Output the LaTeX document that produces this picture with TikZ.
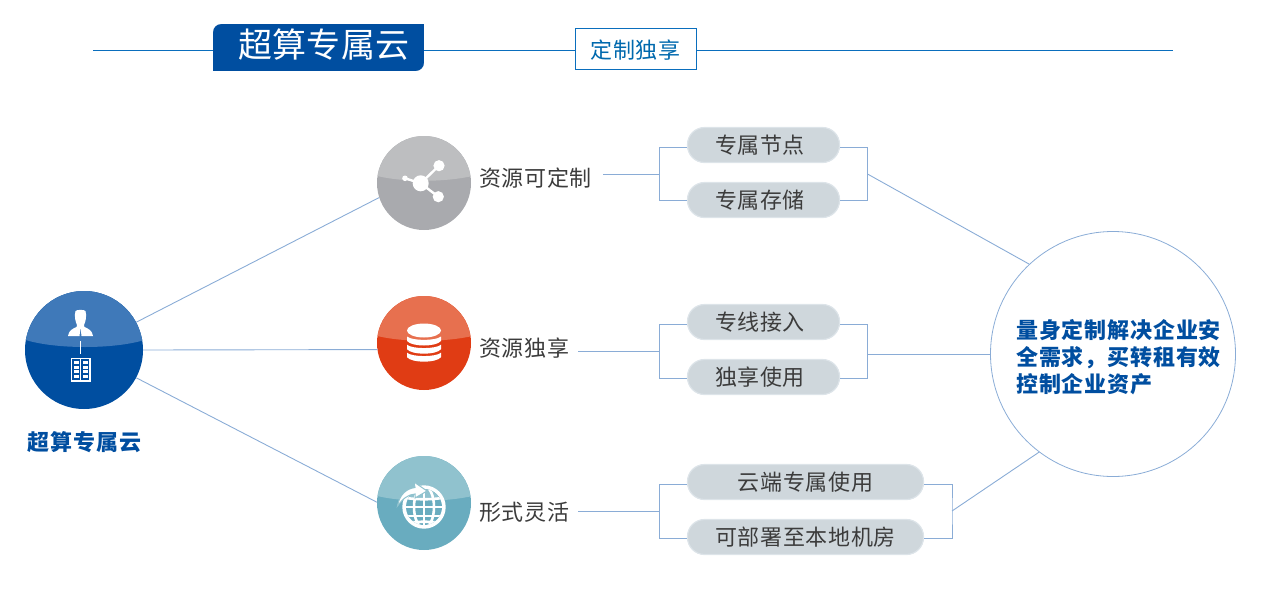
\documentclass[tikz,border=0pt]{standalone}
\usepackage{fontspec}
\setmainfont{Noto Sans CJK SC}[LetterSpace=3]
\newfontfamily\titlefont{Noto Sans CJK SC}[LetterSpace=1]
\newfontfamily\boldspaced{Noto Sans CJK SC}[LetterSpace=3.8]
\usetikzlibrary{calc}
\definecolor{hubdark}{HTML}{004EA0}
\definecolor{hublight}{HTML}{3F79B9}
\definecolor{graydark}{HTML}{A9AAAE}
\definecolor{graylight}{HTML}{BDBEC0}
\definecolor{reddark}{HTML}{E03C14}
\definecolor{redlight}{HTML}{E7704F}
\definecolor{tealdark}{HTML}{69ACBF}
\definecolor{teallight}{HTML}{90C2CE}
\definecolor{txt}{HTML}{3C3C3C}
\definecolor{wire}{HTML}{8AACD6}
\definecolor{headline}{HTML}{0A6EBD}
\definecolor{pillfill}{HTML}{CFD7DC}
\definecolor{pillline}{HTML}{DDE4E9}
\tikzset{
  x=1pt,y=-1pt,
  wireline/.style={draw=wire,line width=0.9pt},
  pill/.style={draw=pillline,line width=1.2pt,fill=pillfill,rounded corners=17pt,minimum height=35pt,inner sep=0pt,text=txt,font=\fontsize{22}{24}\selectfont},
  pillshort/.style={pill,minimum width=152pt},
  pilllong/.style={pill,minimum width=236pt},
  res/.style={circle,inner sep=0pt,minimum size=94pt},
  hubc/.style={circle,inner sep=0pt,minimum size=118pt},
  reslabel/.style={anchor=west,inner sep=0pt,text=txt,font=\fontsize{22}{24}\selectfont},
  boldblue/.style={text=hubdark,font=\boldspaced\fontsize{22}{27}\bfseries\selectfont},
}
\begin{document}
\begin{tikzpicture}
\useasboundingbox (0,0) rectangle (1267,600);
% header
\coordinate (hl) at (93,50.5);
\coordinate (hr) at (1173,50.5);
\draw[headline,line width=0.9pt] (hl) -- (hr);
\node[fill=hubdark,minimum width=211pt,minimum height=47pt,inner sep=0pt,anchor=north west,
  sharp corners] (band) at (213,24) {};
\fill[white] (213,24) -- (221,24) arc[start angle=90,end angle=180,radius=8pt] -- cycle;
\fill[white] (424,71) -- (416,71) arc[start angle=-90,end angle=0,radius=8pt] -- cycle;
\node[text=white,inner sep=0pt,font=\titlefont\fontsize{34}{36}\selectfont] (title) at (324,45) {超算专属云};
\node[draw=headline,fill=white,line width=0.9pt,minimum width=121pt,minimum height=41pt,inner sep=0pt,text=hubdark!85!cyan,text depth=0pt,font=\fontsize{22}{24}\selectfont] (sub) at (635.5,49) {定制独享};
% circles
\node[hubc,fill=hubdark] (hub) at (84,350) {};
\begin{scope}
\clip (84,350) circle[radius=59pt];
\fill[hublight] (20,280) rectangle (150,338) (20,338) -- (150,338) .. controls (120,350) and (50,350) .. (20,338) -- cycle;
\end{scope}
\node[res,fill=graydark] (r1) at (424,183) {};
\node[res,fill=reddark] (r2) at (424,343) {};
\node[res,fill=tealdark] (r3) at (424,503) {};
\foreach \c/\yy/\col in {r1/183/graylight,r2/343/redlight,r3/503/teallight}{
  \begin{scope}
  \clip (424,\yy) circle[radius=47pt];
  \fill[\col] (370,\yy-50) rectangle (480,\yy-9) (370,\yy-9) -- (480,\yy-9) .. controls (450,\yy+0) and (398,\yy+0) .. (370,\yy-9) -- cycle;
  \end{scope}
}
% person icon
\fill[white] (75.5,311) .. controls (76.5,309.5) and (84.5,309.5) .. (85.5,311) .. controls (87,316) and (85.5,322) .. (84,325) -- (84.5,327) .. controls (88.5,329) and (92,330) .. (93,336) -- (81.5,336) -- (80.5,327) -- (79.5,336) -- (68,336) .. controls (69,330) and (72.5,329) .. (76.5,327) -- (77,325) .. controls (75.5,322) and (74,316) .. (75.5,311) -- cycle;
\draw[white,line width=0.7pt] (80.5,341) -- (80.5,354);
% building icon
\draw[white,line width=1.1pt] (71.5,358.5) rectangle (90,381);
\draw[white,line width=1pt] (80.7,358.5) -- (80.7,381);
\foreach \yy in {361,365.5,370,374.5}{
  \fill[white] (73.5,\yy) rectangle (78.8,\yy+3);
  \fill[white] (82.7,\yy) rectangle (88,\yy+3);
}
% share icon
\draw[white,line width=2.4pt] (405,178.3) -- (420.7,183.3) -- (439,165.7) (420.7,183.3) -- (438.3,196.7);
\fill[white] (420.7,183.3) circle[radius=8pt] (439,165.7) circle[radius=5.6pt] (438.3,196.7) circle[radius=5.6pt] (405,178.3) circle[radius=2.8pt];
% database icon
\fill[white] (424,330.5) ellipse[x radius=17pt,y radius=7pt];
\foreach \yy in {336.5,344.7,352.7}{
  \fill[white] (407,\yy) .. controls (412,\yy+4.5) and (436,\yy+4.5) .. (441,\yy) -- (441,\yy+4.5) .. controls (436,\yy+10.5) and (412,\yy+10.5) .. (407,\yy+4.5) -- cycle;
}
% globe icon
\fill[white] (424,507) circle[radius=21.7pt];
\begin{scope}
\clip (424,507) circle[radius=18pt];
\fill[tealdark] (400,480) rectangle (448,535);
\fill[teallight] (400,480) rectangle (448,498);
\draw[white,line width=2.6pt] (424,507) ellipse[x radius=10pt,y radius=21pt];
\draw[white,line width=2.6pt] (424,485) -- (424,530);
\draw[white,line width=2.6pt] (400,507) -- (448,507) (400,516) -- (448,516);
\draw[white,line width=2.6pt] (402,497) .. controls (412,500) and (436,500) .. (446,497);
\draw[white,line width=2.6pt] (404,524) .. controls (412,521) and (436,521) .. (444,524);
\end{scope}
\filldraw[white,draw=teallight,line width=1pt,line join=miter] (397.5,506) .. controls (399.5,494) and (407,488.5) .. (415,487.5) -- (414,482) -- (427,491) -- (415,498) -- (415,494) .. controls (408,494.5) and (403,498.5) .. (397.5,506) -- cycle;
% labels
\node[boldblue,inner sep=0pt] (hublabel) at (84.5,442) {超算专属云};
\node[reslabel] (l1) at (479,178) {资源可定制};
\node[reslabel] (l2) at (479,348) {资源独享};
\node[reslabel] (l3) at (479,512) {形式灵活};
% pills
\node[pillshort] (p1) at (763.5,145) {\hspace*{-7pt}专属节点};
\node[pillshort] (p2) at (763.5,200) {\hspace*{-7pt}专属存储};
\node[pillshort] (p3) at (763.5,322) {\hspace*{-7pt}专线接入};
\node[pillshort] (p4) at (763.5,377) {\hspace*{-7pt}独享使用};
\node[pilllong] (p5) at (805.5,482) {云端专属使用};
\node[pilllong] (p6) at (805.5,537) {可部署至本地机房};
% big circle
\node[circle,draw=wire,line width=0.8pt,minimum size=245pt,inner sep=0pt] (big) at (1113,354) {};
\node[boldblue,align=left,anchor=west,inner sep=0pt] (bigtext) at (1016,357) {量身定制解决企业安\\全需求，买转租有效\\控制企业资产};
% junction coordinates
\coordinate (s1) at (603,174);
\coordinate (j1) at (659.5,174);
\coordinate (k1) at (867.5,174);
\coordinate (s2) at (578,351);
\coordinate (j2) at (659.5,351);
\coordinate (k2) at (867.5,354);
\coordinate (s3) at (578,511);
\coordinate (j3) at (659.5,511);
\coordinate (k3) at (952,511);
% connectors
\draw[wireline] (hub.28) -- (r1.198);
\draw[wireline] (hub.east) -- (r2.188.56);
\draw[wireline] (hub.-28) -- (r3.179);
\draw[wireline] (s1) -- (j1);
\draw[wireline] (s2) -- (j2);
\draw[wireline] (s3) -- (j3);
\draw[wireline] ([yshift=-2.5pt]p1.west) -| (j1) |- ([yshift=-0.5pt]p2.west);
\draw[wireline] ([yshift=-2pt]p3.west) -| (j2) |- ([yshift=-1pt]p4.west);
\draw[wireline] ([yshift=-2.5pt]p5.west) -| (j3) |- ([yshift=-1pt]p6.west);
\draw[wireline] ([yshift=-2.5pt]p1.east) -| (k1) |- ([yshift=-0.5pt]p2.east);
\draw[wireline] ([yshift=-2pt]p3.east) -| (k2) |- ([yshift=-1pt]p4.east);
\draw[wireline] ([yshift=-2.5pt]p5.east) -| (k3) |- ([yshift=-1pt]p6.east);
\draw[wireline] (k1) -- (big.133.4);
\draw[wireline] (k2) -- (big.west);
\draw[wireline] (k3) -- (big.-127.3);
\end{tikzpicture}
\end{document}
